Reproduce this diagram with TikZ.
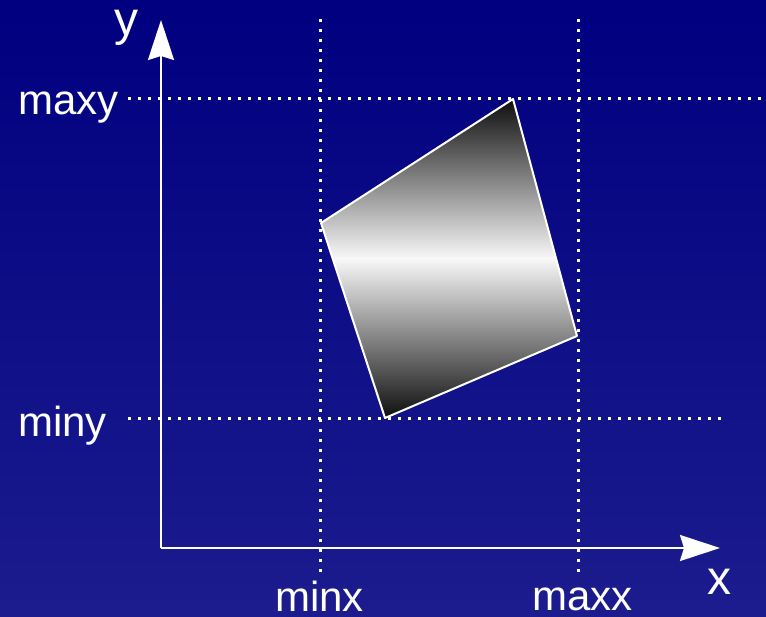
\documentclass[tikz,border=0pt]{standalone}
\usepackage{fontspec}
\setmainfont{Liberation Sans}
\usetikzlibrary{arrows.meta}
\definecolor{bgtop}{RGB}{0,0,128}
\definecolor{bgbot}{RGB}{28,28,142}
\definecolor{qdark}{RGB}{12,12,12}
\definecolor{qlight}{RGB}{248,248,248}
\tikzset{
  axis/.style={draw=white, line width=2pt, -{Stealth[length=40pt,width=26pt,inset=4pt]}},
  guide/.style={draw=white, line width=3pt, dash pattern=on 3pt off 7pt},
  lab/.style={text=white, inner sep=0pt, anchor=base west, font=\fontsize{42}{47}\selectfont},
  biglab/.style={text=white, inner sep=0pt, anchor=base west, font=\fontsize{48}{54}\selectfont},
  quadedge/.style={draw=white, line width=2pt, line join=round},
}
\begin{document}
\begin{tikzpicture}[x=1pt,y=-1pt]
\useasboundingbox (0,0) rectangle (766,617);
\shade[top color=bgtop, bottom color=bgbot] (0,0) rectangle (766,617);
% guides
\coordinate (ymaxL) at (128,99);  \coordinate (ymaxR) at (766,99);
\coordinate (yminL) at (128,419); \coordinate (yminR) at (722,419);
\coordinate (xminT) at (320,19);  \coordinate (xminB) at (320,572);
\coordinate (xmaxT) at (578,19);  \coordinate (xmaxB) at (578,572);
\draw[guide] (ymaxL) -- (ymaxR);
\draw[guide] (yminL) -- (yminR);
\draw[guide] (xminT) -- (xminB);
\draw[guide] (xmaxT) -- (xmaxB);
% axes
\coordinate (O) at (161,548);
\coordinate (Ytip) at (161,20);
\coordinate (Xtip) at (720,548);
\draw[axis] (O) -- (Ytip);
\draw[axis] (O) -- (Xtip);
% quad
\coordinate (A) at (321,223);
\coordinate (B) at (513,99);
\coordinate (C) at (577,336);
\coordinate (D) at (385,418);
\begin{scope}
  \clip (A) -- (B) -- (C) -- (D) -- cycle;
  \shade[top color=qdark, bottom color=qlight] (310,98) rectangle (590,258.5);
  \shade[top color=qlight, bottom color=qdark] (310,258.5) rectangle (590,420);
\end{scope}
\draw[quadedge] (A) -- (B) -- (C) -- (D) -- cycle;
% labels
\node[biglab] (ylab) at (114,36) {y};
\node[biglab] (xlab) at (707,594) {x};
\node[lab] (maxy) at (18,115) {maxy};
\node[lab] (miny) at (18,437) {miny};
\node[lab] (minx) at (275,611) {minx};
\node[lab] (maxx) at (532,610) {maxx};
\end{tikzpicture}
\end{document}
